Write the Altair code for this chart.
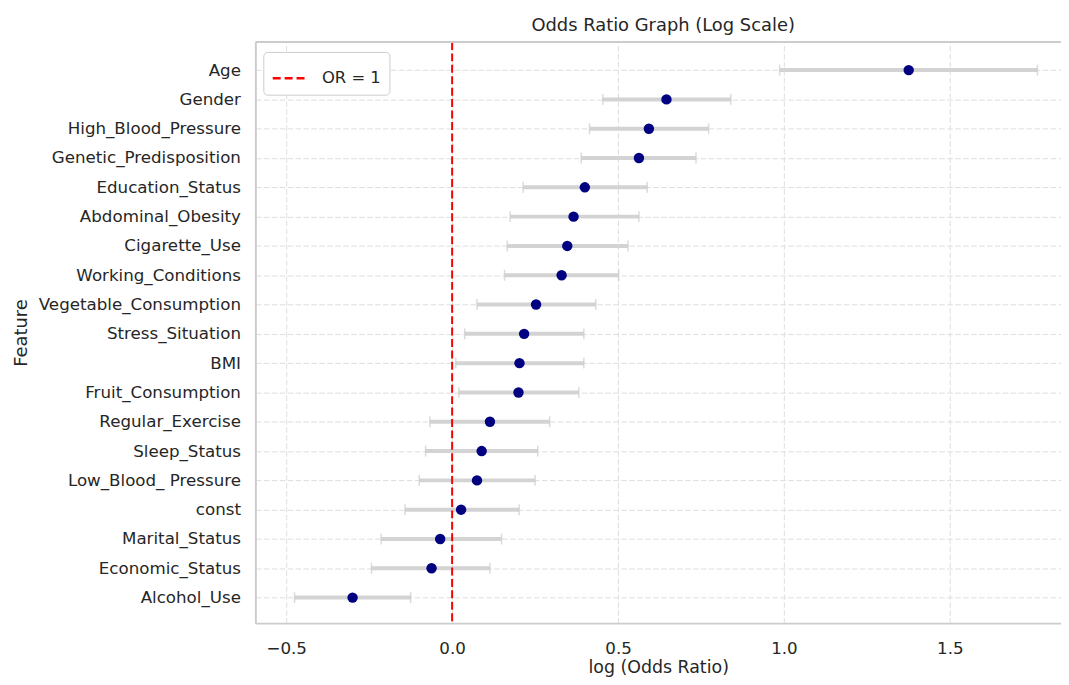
import altair as alt
import pandas as pd

features = ["Age", "Gender", "High_Blood_Pressure", "Genetic_Predisposition", "Education_Status",
            "Abdominal_Obesity", "Cigarette_Use", "Working_Conditions", "Vegetable_Consumption",
            "Stress_Situation", "BMI", "Fruit_Consumption", "Regular_Exercise", "Sleep_Status",
            "Low_Blood_ Pressure", "const", "Marital_Status", "Economic_Status", "Alcohol_Use"]
log_or = [1.376, 0.646, 0.593, 0.563, 0.400, 0.366, 0.347, 0.330, 0.253, 0.217,
          0.203, 0.200, 0.114, 0.089, 0.075, 0.027, -0.036, -0.062, -0.300]
ci_low = [0.987, 0.454, 0.414, 0.389, 0.214, 0.175, 0.166, 0.158, 0.075, 0.038,
          0.011, 0.020, -0.067, -0.080, -0.099, -0.142, -0.214, -0.243, -0.475]
ci_high = [1.764, 0.840, 0.773, 0.735, 0.588, 0.563, 0.530, 0.502, 0.433, 0.397,
           0.397, 0.382, 0.294, 0.258, 0.250, 0.202, 0.149, 0.114, -0.125]
x_ticks = [-0.5, 0.0, 0.5, 1.0, 1.5]
ref_value = [0.0]
ref_label = ["OR = 1"]

df = pd.DataFrame({"feature": features, "log_or": log_or, "low": ci_low, "high": ci_high})
ref_df = pd.DataFrame({"x": ref_value, "label": ref_label})

W, H = 811, 585
TXT = "#262626"
FONT = "DejaVu Sans"

xscale = alt.Scale(domain=[-0.593, 1.835], nice=False, zero=False)
yscale = alt.Scale(type="point", padding=0.915, align=0.524)

x_axis = alt.Axis(
    title="log (Odds Ratio)", values=x_ticks,
    labelExpr="replace(format(datum.value, '.1f'), '-', '\u2212')",
    labelFontSize=16.8, labelColor=TXT, labelPadding=18, ticks=False,
    domain=True, domainColor="#cccccc", domainWidth=2,
    grid=True, gridColor="#dedede", gridDash=[5.5, 2.5], gridWidth=1,
    titleFontSize=17.5, titleColor=TXT, titleFontWeight="normal",
    titleX=W / 2, titleY=49.5, titleBaseline="alphabetic", titleAlign="center",
)
y_axis = alt.Axis(
    title="Feature", labelFontSize=16.8, labelColor=TXT, labelPadding=15, ticks=False,
    labelLimit=400,
    domain=True, domainColor="#cccccc", domainWidth=2,
    grid=True, gridColor="#dedede", gridDash=[5.5, 2.5], gridWidth=1,
    titleFontSize=18, titleColor=TXT, titleFontWeight="normal",
    titleX=-230, titleY=H / 2, titleAngle=270, titleBaseline="alphabetic", titleAlign="center",
)

base = alt.Chart(df)
Y = alt.Y("feature:N", sort=features, scale=yscale, axis=y_axis)

bars = base.mark_rule(color="#d3d3d3", strokeWidth=4).encode(
    x=alt.X("low:Q", scale=xscale, axis=x_axis), x2="high:Q", y=Y)
cap_lo = base.mark_tick(color="#cccccc", thickness=1.5, size=11).encode(
    x=alt.X("low:Q", scale=xscale), y=Y)
cap_hi = base.mark_tick(color="#cccccc", thickness=1.5, size=11).encode(
    x=alt.X("high:Q", scale=xscale), y=Y)

ref = alt.Chart(ref_df).mark_rule(strokeDash=[8, 3.5], strokeWidth=2).encode(
    x=alt.X("x:Q", scale=xscale),
    color=alt.Color("label:N", scale=alt.Scale(domain=ref_label, range=["red"]),
                    legend=alt.Legend(
                        title=None, orient="none", legendX=8, legendY=10,
                        fillColor="white", strokeColor="#cccccc", cornerRadius=4, padding=8,
                        labelFontSize=16.5, labelColor=TXT, labelOffset=14,
                        symbolType="stroke", symbolSize=1156, symbolStrokeWidth=2.5,
                        symbolDash=[8, 4], symbolStrokeColor="red")),
)

points = base.mark_circle(color="navy", size=110, opacity=1).encode(
    x=alt.X("log_or:Q", scale=xscale), y=Y)

top_border = alt.Chart(alt.Data(values=[{"a": 1}])).mark_rule(
    color="#cccccc", strokeWidth=2).encode(
    x=alt.value(0), x2=alt.value(W), y=alt.value(0))

chart = alt.layer(bars, cap_lo, cap_hi, ref, points, top_border).properties(
    width=W, height=H,
    title=alt.TitleParams("Odds Ratio Graph (Log Scale)", fontSize=18, font=FONT, color=TXT,
                          fontWeight="normal", anchor="middle", offset=9.5,
                          baseline="alphabetic", dx=5, dy=17),
    autosize=alt.AutoSizeParams(type="none"),
    padding={"left": 249, "top": 32, "right": 0, "bottom": 52},
).configure(font=FONT).configure_view(stroke=None)

chart.save("out.html", embed_options={"renderer": "svg", "actions": False})
